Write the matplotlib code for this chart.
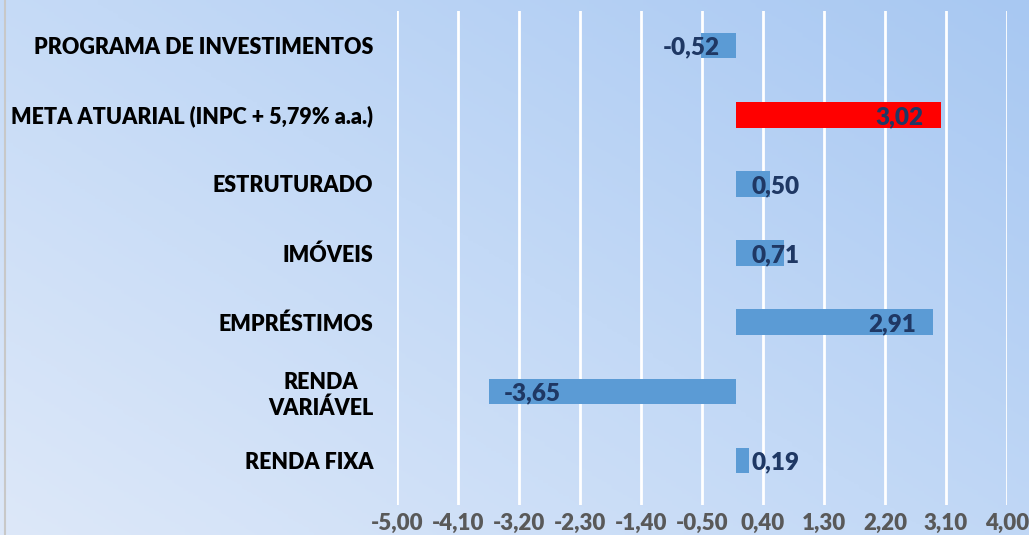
import matplotlib
matplotlib.use("Agg")
import matplotlib.pyplot as plt
import numpy as np
from matplotlib.colors import LinearSegmentedColormap

categories = ["RENDA FIXA", "RENDA\nVARIÁVEL", "EMPRÉSTIMOS", "IMÓVEIS",
              "ESTRUTURADO", "META ATUARIAL (INPC + 5,79% a.a.)",
              "PROGRAMA DE INVESTIMENTOS"]
values = [0.19, -3.65, 2.91, 0.71, 0.50, 3.02, -0.52]
colors = ["#5B9BD5", "#5B9BD5", "#5B9BD5", "#5B9BD5", "#5B9BD5", "#FF0000", "#5B9BD5"]
xticks = [-5.00, -4.10, -3.20, -2.30, -1.40, -0.50, 0.40, 1.30, 2.20, 3.10, 4.00]

plt.rcParams['font.family'] = ['Lato', 'DejaVu Sans']

fig = plt.figure(figsize=(10.29, 5.35), dpi=100)

# gradient background
bg = fig.add_axes([0, 0, 1, 1], zorder=0)
yy, xx = np.mgrid[0:1:200j, 0:1:200j]
t = 0.55 * xx + 0.45 * yy
cmap = LinearSegmentedColormap.from_list("bg", ["#DDE8F9", "#C3D9F6", "#A8C8F2"])
bg.imshow(t, cmap=cmap, origin="lower", aspect="auto", extent=[0, 1, 0, 1])
bg.plot([0.005, 0.005], [0, 1], color="#C8C8C8", lw=1.5)
bg.set_xlim(0, 1); bg.set_ylim(0, 1)
bg.axis("off")

ax = fig.add_axes([397/1029, 1 - 505/535, (1007 - 397)/1029, (505 - 11)/535], zorder=1)
ax.patch.set_alpha(0)
y = np.arange(len(categories))
ax.barh(y, values, height=0.37, color=colors, zorder=3)
ax.set_xlim(-5, 4)
ax.set_ylim(6.5 - 494/69.17, 6.5)
ax.set_xticks(xticks)
ax.set_xticklabels([f"{v:.2f}".replace(".", ",") for v in xticks],
                   fontsize=16, fontweight="heavy", color="#595959")
ax.set_yticks(y)
ax.set_yticklabels(categories, fontsize=15.5, fontweight="heavy", color="black",
                   multialignment="center", linespacing=1.25)
ax.tick_params(axis="both", length=0)
ax.tick_params(axis="y", pad=17)
ax.tick_params(axis="x", pad=6)
ax.grid(axis="x", color="white", lw=2, zorder=1)
for s in ax.spines.values():
    s.set_visible(False)

for yi, v in zip(y, values):
    txt = f"{v:.2f}".replace(".", ",")
    if v >= 0:
        if v > 1.5:
            x, ha, off = v, "right", -12
        else:
            x, ha, off = 0, "left", 11.5
    else:
        if v < -1.5:
            x, ha, off = v, "left", 11
        else:
            x, ha, off = 0, "right", -11.5
    ax.annotate(txt, (x, yi), xytext=(off, -1.5), textcoords="offset points",
                ha=ha, va="center", fontsize=17.5, fontweight="heavy",
                color="#1F3864", zorder=4)

fig.savefig("out.png", dpi=100)
